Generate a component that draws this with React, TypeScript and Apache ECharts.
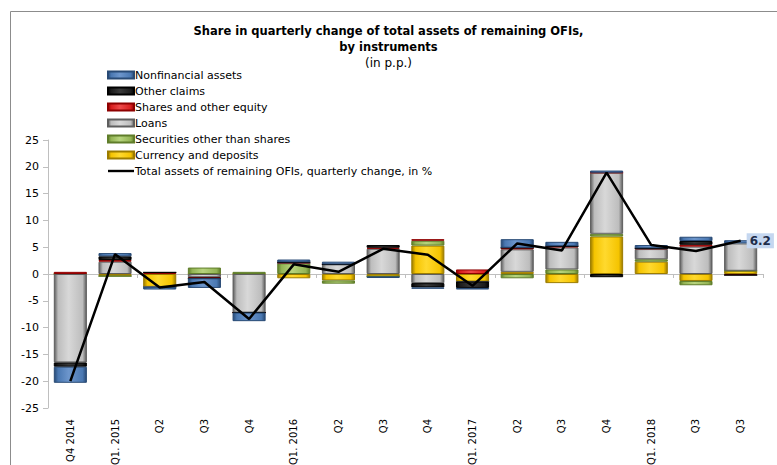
import React, { useEffect, useRef } from "react";
import * as echarts from "echarts";

const categories = [
  "Q4 2014", "Q1. 2015", "Q2", "Q3", "Q4", "Q1. 2016", "Q2", "Q3",
  "Q4", "Q1. 2017", "Q2", "Q3", "Q4", "Q1. 2018", "Q3", "Q3",
];

// stacked components (p.p.)
const currencyDeposits = [0, -0.4, -2.4, 0, 0, -0.8, -1.2, -0.45, 5.3, -1.4, 0.4, -1.7, 7.0, 2.3, -1.3, 0.6];
const securities = [0, 0, 0, 1.2, 0.4, 2.0, -0.6, 0, 0.9, 0, -0.8, 0.85, 0.5, 0.45, -0.8, 0];
const loans = [-16.5, 2.3, 0, -0.6, -7.2, 0, 1.8, 4.7, -1.7, 0, 4.2, 4.1, 11.4, 1.9, 5.1, 5.1];
const sharesEquity = [0.4, 0.3, 0.3, -0.2, 0, 0.2, 0, 0.2, 0.3, 0.85, 0.3, 0.25, 0, 0.15, 0.35, -0.2];
const otherClaims = [-0.8, 0.7, 0, 0, 0, 0, 0, 0.5, -0.8, -1.2, 0, 0, -0.6, 0, 0.7, 0];
const nonfinancial = [-3.0, 0.6, -0.5, -1.8, -1.6, 0.5, 0.5, -0.3, -0.25, -0.3, 1.6, 0.8, 0.4, 0.6, 0.8, 0.6];
const totalChange = [-20.0, 3.7, -2.5, -1.5, -8.4, 1.8, 0.4, 4.7, 3.6, -2.2, 5.7, 4.4, 18.9, 5.4, 4.3, 6.2];

const yTicks = { min: -25, max: 25, interval: 5 };

const FONT = "DejaVu Sans";

function grad(dark: string, base: string, light: string) {
  return new echarts.graphic.LinearGradient(0, 0, 1, 0, [
    { offset: 0, color: dark },
    { offset: 0.12, color: base },
    { offset: 0.45, color: light },
    { offset: 0.88, color: base },
    { offset: 1, color: dark },
  ]);
}

const barDefs = [
  { name: "Currency and deposits", data: currencyDeposits, dark: "#9c7c00", base: "#f5c400", light: "#ffd92e" },
  { name: "Securities other than shares", data: securities, dark: "#5f7d2a", base: "#93b454", light: "#b7d47e" },
  { name: "Loans", data: loans, dark: "#5e5e5e", base: "#bdbdbd", light: "#d8d8d8" },
  { name: "Shares and other equity", data: sharesEquity, dark: "#8e0000", base: "#d81e1e", light: "#ee4a4a" },
  { name: "Other claims", data: otherClaims, dark: "#000000", base: "#1c1c1c", light: "#3a3a3a" },
  { name: "Nonfinancial assets", data: nonfinancial, dark: "#284a75", base: "#4a78b2", light: "#6d96cc" },
];

const LINE_NAME = "Total assets of remaining OFIs, quarterly change, in %";

export default function App() {
  const ref = useRef<HTMLDivElement>(null);
  useEffect(() => {
    if (!ref.current) return;
    const chart = echarts.init(ref.current, null, { renderer: "svg" });
    chart.setOption({
      animation: false,
      backgroundColor: "#ffffff",
      textStyle: { fontFamily: FONT },
      title: {
        text: "Share in quarterly change of total assets of remaining OFIs,\nby instruments",
        subtext: "(in p.p.)",
        left: "center",
        top: 18,
        itemGap: 1,
        textStyle: { fontFamily: FONT, fontSize: 11.5, fontWeight: "bold", color: "#000", lineHeight: 16 },
        subtextStyle: { fontFamily: FONT, fontSize: 12, color: "#000", lineHeight: 14 },
      },
      legend: {
        orient: "vertical",
        left: 107,
        top: 68,
        itemWidth: 26,
        itemHeight: 7,
        itemGap: 2,
        padding: 0,
        textStyle: { fontFamily: FONT, fontSize: 11, color: "#000", lineHeight: 14, padding: [0, 0, 0, -4] },
        data: [
          { name: "Nonfinancial assets", icon: "rect" },
          { name: "Other claims", icon: "rect" },
          { name: "Shares and other equity", icon: "rect" },
          { name: "Loans", icon: "rect" },
          { name: "Securities other than shares", icon: "rect" },
          { name: "Currency and deposits", icon: "rect" },
          { name: LINE_NAME, icon: "path://M0,0H26V2.4H0Z", itemStyle: { color: "#000", borderWidth: 0 } },
        ],
      },
      graphic: [
        {
          type: "rect",
          shape: { x: 10.5, y: 11.5, width: 900, height: 600 },
          style: { fill: "none", stroke: "#8c8c8c", lineWidth: 1 },
          silent: true,
        },
      ],
      grid: { left: 48, right: 14, top: 140, bottom: 57, containLabel: false, outerBoundsMode: "none" },
      xAxis: [
        {
          type: "category",
          data: categories,
          position: "bottom",
          axisLine: { show: false, onZero: false },
          axisTick: { show: false },
          axisLabel: {
            interval: 0,
            rotate: 90,
            margin: 11,
            fontFamily: FONT,
            fontSize: 10,
            color: "#000",
          },
          splitLine: { show: false },
        },
        {
          type: "category",
          data: categories,
          position: "bottom",
          axisLine: { show: true, onZero: true, lineStyle: { color: "#bfbfbf", width: 1 } },
          axisTick: { show: true, length: 4, lineStyle: { color: "#bfbfbf" } },
          axisLabel: { show: false },
          splitLine: { show: false },
        },
      ],
      yAxis: {
        type: "value",
        min: yTicks.min,
        max: yTicks.max,
        interval: yTicks.interval,
        axisLine: { show: true, lineStyle: { color: "#bfbfbf" } },
        axisTick: { show: true, length: 5, lineStyle: { color: "#bfbfbf" } },
        axisLabel: { fontFamily: FONT, fontSize: 11, color: "#000", margin: 9 },
        splitLine: { show: false },
      },
      series: [
        ...barDefs.map((b) => ({
          name: b.name,
          type: "bar",
          stack: "total",
          barWidth: "74%",
          data: b.data,
          itemStyle: {
            color: grad(b.dark, b.base, b.light),
            borderColor: b.dark,
            borderWidth: 1,
          },
        })),
        {
          name: LINE_NAME,
          type: "line",
          data: totalChange,
          showSymbol: false,
          symbol: "none",
          lineStyle: { color: "#000", width: 2.5 },
          itemStyle: { color: "#000" },
          z: 5,
          endLabel: {
            show: true,
            distance: 6,
            formatter: (p: any) => String(p.value),
            fontFamily: FONT,
            fontWeight: "bold",
            fontSize: 12,
            color: "#1f2d4a",
            backgroundColor: "#c5d7f0",
            padding: [2, 3, 1, 3],
          },
        },
      ],
    });
    return () => chart.dispose();
  }, []);
  return <div ref={ref} style={{ position: "fixed", left: 0, top: 0, width: 777, height: 465 }} />;
}
